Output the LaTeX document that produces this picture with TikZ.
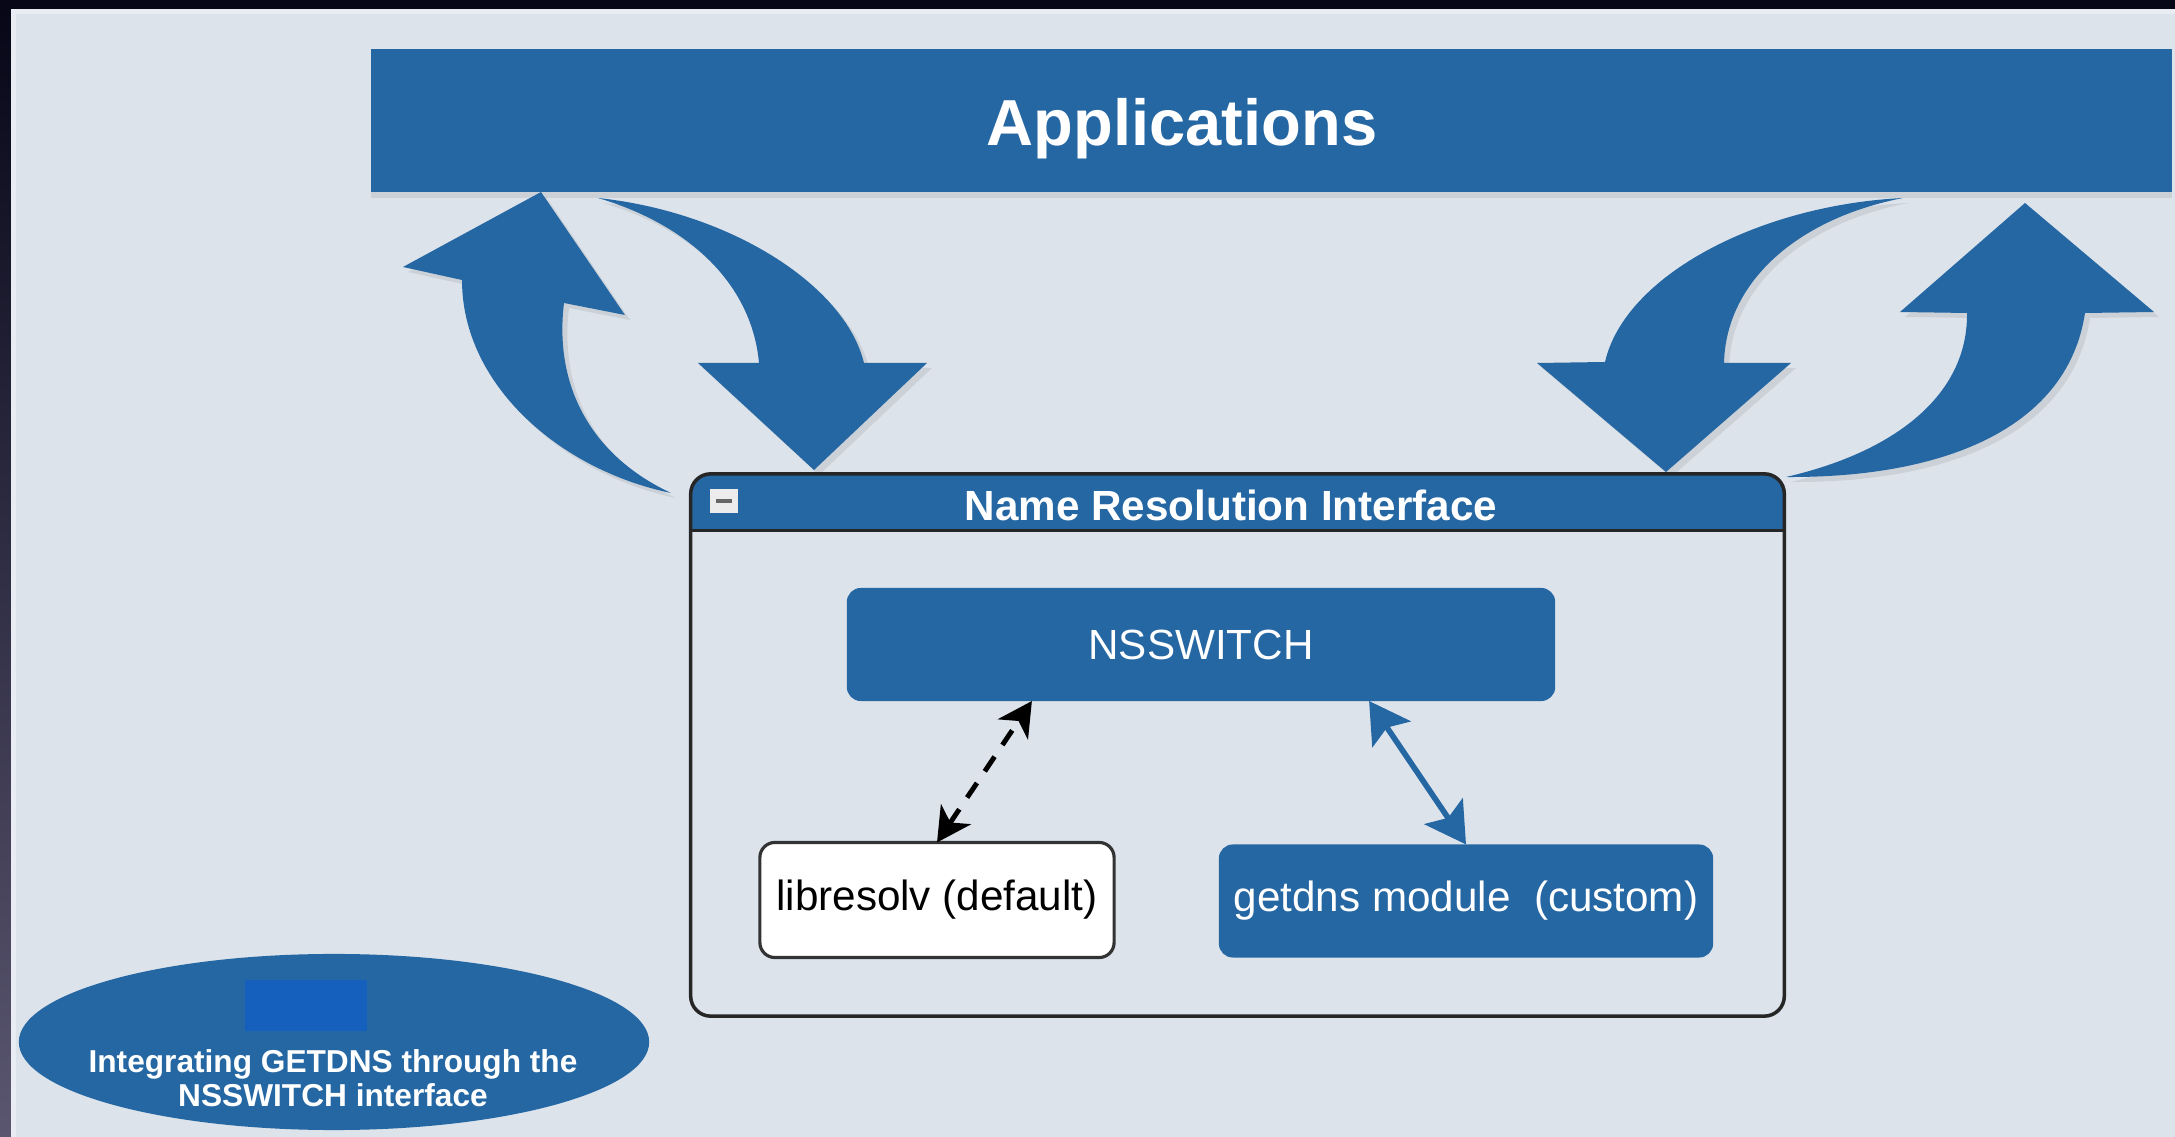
\documentclass[tikz,border=0pt]{standalone}
\usepackage{fontspec}
\setmainfont{Liberation Sans}
\usetikzlibrary{arrows.meta,shapes.geometric,shadows}

\definecolor{nsblue}{HTML}{2567A3}
\definecolor{keyblue}{HTML}{1560BD}
\definecolor{pagebg}{HTML}{DCE3EB}
\definecolor{pageedge}{HTML}{E9EDF3}
\definecolor{framedark}{HTML}{070718}
\definecolor{framegray}{HTML}{5A5670}

\begin{document}
\begin{tikzpicture}[x=0.01cm, y=-0.01cm,
  every node/.style={outer sep=0pt, inner sep=0pt},
  bluebox/.style={rectangle, fill=nsblue, text=white, rounded corners=0.14cm},
  whitebox/.style={rectangle, fill=white, draw=black!80, line width=0.9pt, rounded corners=0.15cm},
  bigarrow/.style={fill=nsblue, drop shadow={opacity=0.18, shadow xshift=0.05cm, shadow yshift=-0.05cm}},
  dasharrow/.style={dashed, dash pattern=on 5pt off 4pt, line width=1.4pt, {Stealth[length=0.34cm, width=0.36cm, inset=0.1cm]}-{Stealth[length=0.34cm, width=0.36cm, inset=0.1cm]}},
  linkarrow/.style={nsblue, line width=1.6pt, {Stealth[length=0.4cm, width=0.46cm, inset=0.08cm]}-{Stealth[length=0.4cm, width=0.46cm, inset=0.08cm]}}]
\useasboundingbox (0,0) rectangle (2175,1137);

% page and frame
\fill[framedark] (0,0) rectangle (2175,1137);
\shade[top color=framedark, bottom color=framegray] (0,9) rectangle (11,1137);
\fill[pageedge] (11,9) rectangle (2175,1137);
\fill[pagebg] (16,14) rectangle (2175,1137);

% Applications bar
\node[rectangle, fill=nsblue, minimum width=17.99cm, minimum height=1.43cm,
  drop shadow={opacity=0.18, shadow xshift=0cm, shadow yshift=-0.06cm}] (apps) at (1271.5,120.5) {};
\node[anchor=base, text=white, font=\fontsize{18.5}{20}\selectfont\bfseries] (appstext) at (1182,146) {Applications};

% left pair of arrows
\fill[bigarrow] (541,192) -- (625,315) -- (564,303)
  .. controls (554,385) and (590,455) .. (671,493)
  .. controls (560,470) and (462,385) .. (462,280)
  -- (403,267) -- cycle;
\fill[bigarrow] (598,198)
  .. controls (730,212) and (845,285) .. (864,363)
  -- (927,363) -- (814,470) -- (698,363) -- (759,363)
  .. controls (752,285) and (690,225) .. (598,198)
  -- cycle;

% right pair of arrows
\fill[bigarrow] (1903,198)
  .. controls (1760,205) and (1625,275) .. (1605,362)
  -- (1537,363) -- (1666,472) -- (1791,363) -- (1724,363)
  .. controls (1726,280) and (1800,218) .. (1903,198)
  -- cycle;
\fill[bigarrow] (2025,203) -- (2154,312) -- (2085,313)
  .. controls (2068,425) and (1950,478) .. (1786,477)
  .. controls (1895,452) and (1968,395) .. (1967,313)
  -- (1900,312) -- cycle;

% Name Resolution Interface
\node[rectangle, fill=pagebg, minimum width=10.93cm, minimum height=5.42cm] (nri) at (1237.5,745) {};
\fill[nsblue] ([yshift=-0.57cm]nri.north west) {[rounded corners=0.2cm] -- (nri.north west) -- (nri.north east)} -- ([yshift=-0.57cm]nri.north east) -- cycle;
\draw[black!85, line width=0.9pt] ([yshift=-0.57cm]nri.north west) -- ([yshift=-0.57cm]nri.north east);
\draw[black!85, line width=1pt, rounded corners=0.2cm] (nri.north west) rectangle (nri.south east);
\node[rectangle, fill=gray!15, minimum width=0.28cm, minimum height=0.23cm] (fold) at (724,501) {};
\draw[black!60, line width=1.2pt] ([xshift=0.06cm]fold.west) -- ([xshift=-0.06cm]fold.east);
\node[text=white, font=\fontsize{12}{14}\selectfont\bfseries] (nrititle) at (1231,505) {Name Resolution Interface};

\node[bluebox, minimum width=7.08cm, minimum height=1.13cm, font=\fontsize{12}{14}\selectfont] (nss) at (1201,644.5) {NSSWITCH};
\node[whitebox, minimum width=3.54cm, minimum height=1.15cm, font=\fontsize{12}{14}\selectfont] (lib) at (937,900) {libresolv (default)};
\node[bluebox, minimum width=4.94cm, minimum height=1.13cm, font=\fontsize{12}{14}\selectfont] (gdns) at (1466,901) {getdns module\ \ (custom)};

\draw[dasharrow] (lib.north) -- ([xshift=-1.69cm]nss.south);
\draw[linkarrow] ([xshift=1.68cm]nss.south) -- (gdns.north);

% legend
\node[ellipse, fill=nsblue, minimum width=6.3cm, minimum height=1.76cm] (legend) at (334,1042) {};
\node[rectangle, fill=keyblue, minimum width=1.22cm, minimum height=0.51cm] (legendkey) at (306,1005.5) {};
\node[align=center, text=white, font=\fontsize{9}{9.5}\selectfont\bfseries] (legendtext) at (333,1078) {Integrating GETDNS through the\\NSSWITCH interface};
\end{tikzpicture}
\end{document}
